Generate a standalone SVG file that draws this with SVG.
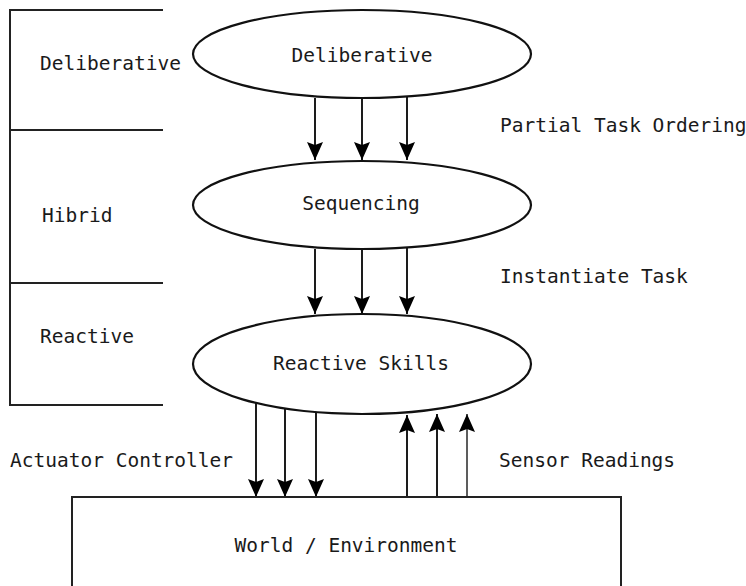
<svg xmlns="http://www.w3.org/2000/svg" width="746" height="586" viewBox="0 0 746 586">
<style>
text{font-family:"DejaVu Sans Mono","Liberation Mono",monospace;font-size:19.5px;fill:#1a1a1a}
.e{fill:#fff;stroke:#111;stroke-width:2.2}
.l{stroke:#111;stroke-width:1.9;fill:none}
.b{stroke:#222;stroke-width:2;fill:none}
</style>
<defs>
<marker id="ah" markerUnits="userSpaceOnUse" markerWidth="22" markerHeight="20" viewBox="-20 -10 22 20" refX="0" refY="0" orient="auto">
<path d="M0,0 L-18,-8 L-15,0 L-18,8 Z" fill="#000"/>
</marker>
</defs>
<g id="bracket">
<path class="b" d="M163,10 H10 V405 H163 M10,130 H163 M10,283 H163"/>
<text x="40" y="70">Deliberative</text>
<text x="42" y="222">Hibrid</text>
<text x="40" y="343">Reactive</text>
</g>
<g id="connectors">
<path class="l" marker-end="url(#ah)" d="M315,98 V160"/>
<path class="l" marker-end="url(#ah)" d="M362,98 V160"/>
<path class="l" marker-end="url(#ah)" d="M407,97 V160"/>
<path class="l" marker-end="url(#ah)" d="M315,249 V314"/>
<path class="l" marker-end="url(#ah)" d="M362,250 V314"/>
<path class="l" marker-end="url(#ah)" d="M407,248 V314"/>
<path class="l" marker-end="url(#ah)" d="M256,402 V497"/>
<path class="l" marker-end="url(#ah)" d="M285,406 V497"/>
<path class="l" marker-end="url(#ah)" d="M316,411 V497"/>
<path class="l" marker-end="url(#ah)" d="M407,497 V415"/>
<path class="l" marker-end="url(#ah)" d="M437,497 V414"/>
<path class="l" marker-end="url(#ah)" d="M467,497 V414" style="stroke:#555"/>
<text x="500" y="132">Partial Task Ordering</text>
<text x="500" y="283">Instantiate Task</text>
<text x="10" y="467">Actuator Controller</text>
<text x="499" y="467">Sensor Readings</text>
</g>
<g id="deliberative">
<ellipse class="e" cx="362" cy="54" rx="169" ry="44"/>
<text x="362" y="62" text-anchor="middle">Deliberative</text>
</g>
<g id="sequencing">
<ellipse class="e" cx="362" cy="205" rx="169" ry="44"/>
<text x="361" y="210" text-anchor="middle">Sequencing</text>
</g>
<g id="reactive">
<ellipse class="e" cx="362" cy="364" rx="169" ry="50"/>
<text x="361" y="370" text-anchor="middle">Reactive Skills</text>
</g>
<g id="world">
<path class="b" d="M72,590 V497 H621 V590"/>
<text x="346" y="552" text-anchor="middle">World / Environment</text>
</g>
</svg>
